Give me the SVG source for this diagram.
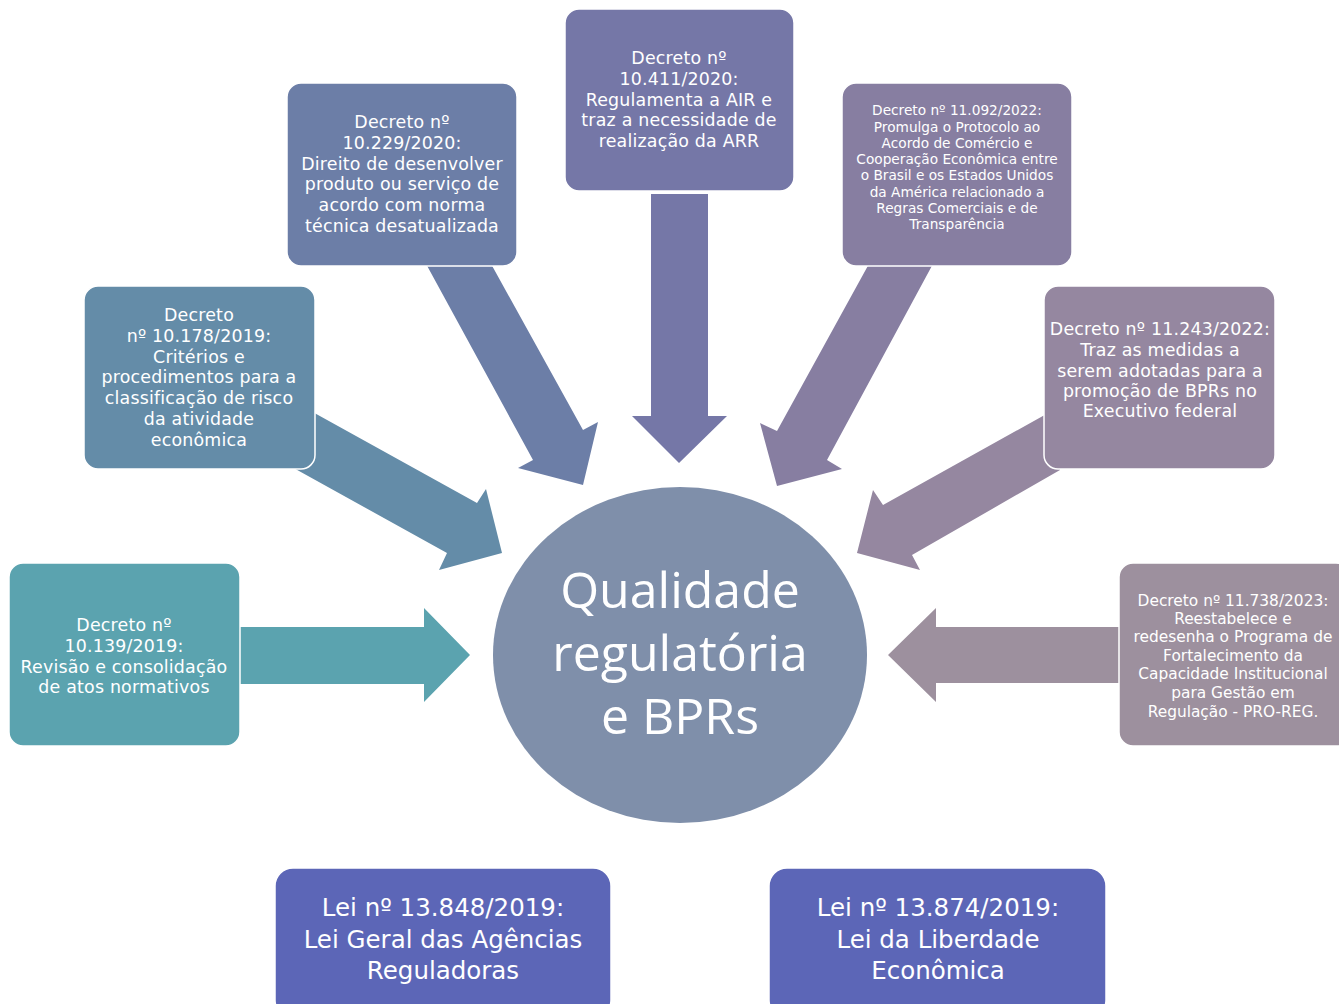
<svg xmlns="http://www.w3.org/2000/svg" width="1339" height="1004" viewBox="0 0 1339 1004">
<style>
.box{stroke:#ffffff;stroke-width:1.5}
.t{font-family:"DejaVu Sans","Open Sans",sans-serif;fill:#ffffff;text-anchor:middle}
.s18{font-size:17.4px;letter-spacing:0.2px}
.s14{font-size:13.7px}
.s16{font-size:15.4px}
.s27{font-size:24.5px}
.c{font-family:"Open Sans","Liberation Sans",sans-serif;fill:#ffffff;text-anchor:middle;font-size:50px}
</style>
<rect width="1339" height="1004" fill="#ffffff"/>
<g id="connectors">
  <polygon fill="#5BA3AF" points="238,627 424,627 424,608 470,655 424,702 424,684 238,684"/>
  <polygon fill="#648CA8" points="300,405 477,503 486,489 502,553 439,570 447,553 290,466"/>
  <polygon fill="#6C7EA7" points="425,262 490,262 583,430 598,422 583,485 518,468 533,460"/>
  <polygon fill="#7577A7" points="651,194 708,194 708,416 727,416 679,463 632,416 651,416"/>
  <polygon fill="#877EA1" points="870,262 934,262 827,460 842,469 777,486 760,423 777,431"/>
  <polygon fill="#9587A0" points="1050,412 1060,470 912,555 920,570 857,553 873,490 883,505"/>
  <polygon fill="#9D909E" points="1125,627 936,627 936,608 888,655 936,702 936,683 1125,683"/>
</g>
<g id="center">
  <ellipse cx="680" cy="655" rx="187" ry="168" fill="#7F8FAA"/>
  <text class="c" x="680" y="608">Qualidade</text>
  <text class="c" x="680" y="671">regulatória</text>
  <text class="c" x="680" y="734">e BPRs</text>
</g>
<g id="n10139">
  <rect class="box" x="9" y="563" width="231" height="183" rx="14" fill="#5BA3AF"/>
  <text class="t s18" x="124" y="631">Decreto nº</text>
  <text class="t s18" x="124" y="652">10.139/2019:</text>
  <text class="t s18" x="124" y="673">Revisão e consolidação</text>
  <text class="t s18" x="124" y="693">de atos normativos</text>
</g>
<g id="n10178">
  <rect class="box" x="84" y="286" width="231" height="183" rx="14" fill="#648CA8"/>
  <text class="t s18" x="199" y="321">Decreto</text>
  <text class="t s18" x="199" y="342">nº 10.178/2019:</text>
  <text class="t s18" x="199" y="363">Critérios e</text>
  <text class="t s18" x="199" y="383">procedimentos para a</text>
  <text class="t s18" x="199" y="404">classificação de risco</text>
  <text class="t s18" x="199" y="425">da atividade</text>
  <text class="t s18" x="199" y="446">econômica</text>
</g>
<g id="n10229">
  <rect class="box" x="287" y="83" width="230" height="183" rx="14" fill="#6C7EA7"/>
  <text class="t s18" x="402" y="128">Decreto nº</text>
  <text class="t s18" x="402" y="149">10.229/2020:</text>
  <text class="t s18" x="402" y="170">Direito de desenvolver</text>
  <text class="t s18" x="402" y="190">produto ou serviço de</text>
  <text class="t s18" x="402" y="211">acordo com norma</text>
  <text class="t s18" x="402" y="232">técnica desatualizada</text>
</g>
<g id="n10411">
  <rect class="box" x="565" y="9" width="229" height="182" rx="14" fill="#7577A7"/>
  <text class="t s18" x="679" y="64">Decreto nº</text>
  <text class="t s18" x="679" y="85">10.411/2020:</text>
  <text class="t s18" x="679" y="106">Regulamenta a AIR e</text>
  <text class="t s18" x="679" y="126">traz a necessidade de</text>
  <text class="t s18" x="679" y="147">realização da ARR</text>
</g>
<g id="n11092">
  <rect class="box" x="842" y="83" width="230" height="183" rx="14" fill="#877EA1"/>
  <text class="t s14" x="957" y="115">Decreto nº 11.092/2022:</text>
  <text class="t s14" x="957" y="132">Promulga o Protocolo ao</text>
  <text class="t s14" x="957" y="148">Acordo de Comércio e</text>
  <text class="t s14" x="957" y="164">Cooperação Econômica entre</text>
  <text class="t s14" x="957" y="180">o Brasil e os Estados Unidos</text>
  <text class="t s14" x="957" y="197">da América relacionado a</text>
  <text class="t s14" x="957" y="213">Regras Comerciais e de</text>
  <text class="t s14" x="957" y="229">Transparência</text>
</g>
<g id="n11243">
  <rect class="box" x="1044" y="286" width="231" height="183" rx="14" fill="#9587A0"/>
  <text class="t s18" x="1160" y="335">Decreto nº 11.243/2022:</text>
  <text class="t s18" x="1160" y="356">Traz as medidas a</text>
  <text class="t s18" x="1160" y="377">serem adotadas para a</text>
  <text class="t s18" x="1160" y="397">promoção de BPRs no</text>
  <text class="t s18" x="1160" y="417">Executivo federal</text>
</g>
<g id="n11738">
  <rect class="box" x="1119" y="563" width="231" height="183" rx="14" fill="#9D909E"/>
  <text class="t s16" x="1233" y="606">Decreto nº 11.738/2023:</text>
  <text class="t s16" x="1233" y="624">Reestabelece e</text>
  <text class="t s16" x="1233" y="642">redesenha o Programa de</text>
  <text class="t s16" x="1233" y="661">Fortalecimento da</text>
  <text class="t s16" x="1233" y="679">Capacidade Institucional</text>
  <text class="t s16" x="1233" y="698">para Gestão em</text>
  <text class="t s16" x="1233" y="717">Regulação - PRO-REG.</text>
</g>
<g id="lei13848">
  <rect class="box" x="275" y="868" width="336" height="150" rx="18" fill="#5C66B7"/>
  <text class="t s27" x="443" y="916">Lei nº 13.848/2019:</text>
  <text class="t s27" x="443" y="948">Lei Geral das Agências</text>
  <text class="t s27" x="443" y="979">Reguladoras</text>
</g>
<g id="lei13874">
  <rect class="box" x="769" y="868" width="337" height="150" rx="18" fill="#5C66B7"/>
  <text class="t s27" x="938" y="916">Lei nº 13.874/2019:</text>
  <text class="t s27" x="938" y="948">Lei da Liberdade</text>
  <text class="t s27" x="938" y="979">Econômica</text>
</g>
</svg>
